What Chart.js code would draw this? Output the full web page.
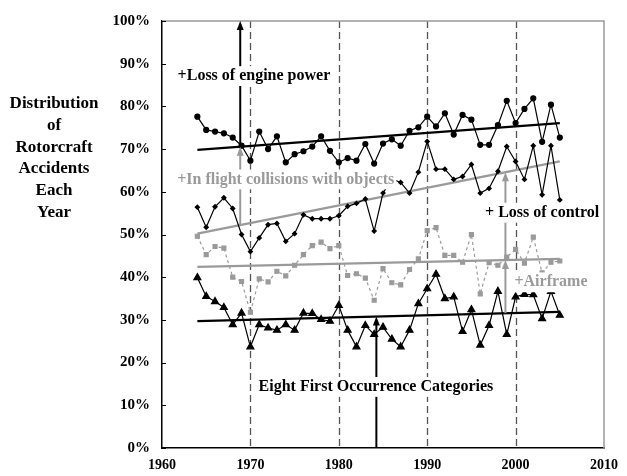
<!DOCTYPE html>
<html>
<head>
<meta charset="utf-8">
<script src="https://cdn.jsdelivr.net/npm/chart.js@4.4.0/dist/chart.umd.min.js"></script>
<style>
    html, body { margin: 0; padding: 0; background: #fff; }
</style>
</head>
<body>
<canvas id="accidentChart" width="627" height="476"></canvas>
<script>
// data (percent of accidents each year)
const years = [1964, 1965, 1966, 1967, 1968, 1969, 1970, 1971, 1972, 1973,
               1974, 1975, 1976, 1977, 1978, 1979, 1980, 1981, 1982, 1983,
               1984, 1985, 1986, 1987, 1988, 1989, 1990, 1991, 1992, 1993,
               1994, 1995, 1996, 1997, 1998, 1999, 2000, 2001, 2002, 2003,
               2004, 2005];
const enginePower = [77.6, 74.5, 74.1, 73.7, 72.7, 70.8, 67.3, 74.1, 70.0, 73.0,
                     66.9, 68.8, 69.5, 70.6, 73.0, 69.6, 66.9, 67.9, 67.3, 71.2,
                     66.6, 71.3, 72.3, 70.8, 74.3, 75.1, 77.6, 75.3, 78.4, 73.4,
                     78.0, 76.9, 71.0, 71.0, 75.6, 81.3, 76.1, 79.4, 81.9, 71.7,
                     80.4, 72.7];
const lossOfControl = [56.4, 51.7, 56.5, 58.6, 56.1, 50.0, 46.0, 49.2, 52.3, 52.6,
                       48.4, 50.2, 54.6, 53.7, 53.7, 53.7, 54.4, 56.6, 57.3, 58.3,
                       50.8, 59.7, 63.0, 62.2, 59.7, 64.6, 71.8, 65.3, 65.3, 62.9,
                       63.6, 66.4, 59.7, 60.8, 64.8, 70.6, 67.1, 62.9, 70.8, 59.3,
                       70.8, 58.1];
const airframe = [49.6, 45.3, 47.2, 46.8, 40.0, 39.0, 31.8, 39.6, 38.9, 41.4,
                  40.3, 42.8, 45.3, 47.4, 48.2, 46.7, 47.4, 40.4, 40.8, 39.8,
                  34.6, 42.0, 38.7, 38.2, 41.8, 44.3, 50.9, 51.6, 45.1, 45.1,
                  43.5, 50.0, 36.1, 43.4, 42.8, 44.7, 46.5, 43.3, 49.4, 41.0,
                  43.5, 43.8];
const eightCategories = [39.9, 35.5, 34.3, 32.9, 28.9, 31.6, 23.7, 28.9, 28.1, 27.6,
                         28.9, 27.6, 31.6, 31.5, 30.1, 29.7, 33.4, 27.6, 23.7, 28.7,
                         26.6, 28.3, 25.5, 23.7, 27.6, 33.8, 37.3, 40.7, 35.0, 35.4,
                         27.3, 32.4, 24.1, 28.7, 36.7, 26.6, 35.4, 36.0, 35.9, 30.3,
                         36.7, 31.1];

// trend lines (start / end values)
const trendYears = [1964, 2005];
const engineTrend = [69.8, 76.1];
const controlTrend = [50.2, 67.1];
const airframeTrend = [42.4, 44.3];
const eightTrend = [29.7, 31.9];

const decadeLines = [1970, 1980, 1990, 2000];
const yTitle = ['Distribution', 'of', 'Rotorcraft', 'Accidents', 'Each', 'Year'];

const BLACK = '#000';
const GRAY = '#9a9a9a';
const SERIF = '"Liberation Serif", "Times New Roman", serif';

Chart.defaults.font.family = SERIF;
Chart.defaults.color = BLACK;

function pts(values) {
    return years.map((yr, i) => ({ x: yr, y: values[i] }));
}
function trendPts(values) {
    return trendYears.map((yr, i) => ({ x: yr, y: values[i] }));
}
function trendAt(values, yr) {
    return values[0] + (values[1] - values[0]) * (yr - trendYears[0]) / (trendYears[1] - trendYears[0]);
}

function arrow(ctx, x, yFrom, yTo, color) {
    ctx.strokeStyle = color;
    ctx.fillStyle = color;
    ctx.lineWidth = 2;
    ctx.beginPath();
    ctx.moveTo(x, yFrom);
    ctx.lineTo(x, yTo + 6);
    ctx.stroke();
    ctx.beginPath();
    ctx.moveTo(x, yTo);
    ctx.lineTo(x - 3.5, yTo + 9);
    ctx.lineTo(x + 3.5, yTo + 9);
    ctx.closePath();
    ctx.fill();
}

function label(ctx, text, cx, cy, color, size) {
    ctx.font = 'bold ' + size + 'px ' + SERIF;
    const w = ctx.measureText(text).width;
    ctx.fillStyle = '#fff';
    ctx.fillRect(cx - w / 2 - 2, cy - size * 0.62, w + 4, size * 1.24);
    ctx.fillStyle = color;
    ctx.textAlign = 'center';
    ctx.textBaseline = 'middle';
    ctx.fillText(text, cx, cy);
}

const decorations = {
    id: 'decorations',
    beforeDatasetsDraw(chart) {
        const { ctx, chartArea: a, scales: { x, y } } = chart;
        ctx.save();
        // dashed decade markers
        ctx.strokeStyle = '#555';
        ctx.lineWidth = 1.3;
        ctx.setLineDash([7, 4]);
        decadeLines.forEach(v => {
            const px = Math.round(x.getPixelForValue(v)) + 0.5;
            ctx.beginPath();
            ctx.moveTo(px, a.top);
            ctx.lineTo(px, a.bottom);
            ctx.stroke();
        });
        ctx.setLineDash([]);
        // light frame on top and right
        ctx.strokeStyle = GRAY;
        ctx.lineWidth = 1.5;
        ctx.beginPath();
        ctx.moveTo(a.left, a.top);
        ctx.lineTo(a.right, a.top);
        ctx.lineTo(a.right, a.bottom);
        ctx.stroke();
        // small inward ticks on the y axis
        ctx.strokeStyle = BLACK;
        ctx.lineWidth = 1;
        y.ticks.forEach(t => {
            const py = Math.round(y.getPixelForValue(t.value)) + 0.5;
            ctx.beginPath();
            ctx.moveTo(a.left, py);
            ctx.lineTo(a.left + 4, py);
            ctx.stroke();
        });
        ctx.restore();
    },
    afterDatasetsDraw(chart) {
        const { ctx, scales: { x, y } } = chart;
        ctx.save();
        const xl = x.getPixelForValue(1968.85);
        const xr = x.getPixelForValue(1998.85);
        const xm = x.getPixelForValue(1984.25);

        arrow(ctx, xl, y.getPixelForValue(trendAt(engineTrend, 1968.85)), y.getPixelForValue(100), BLACK);
        arrow(ctx, xl, y.getPixelForValue(trendAt(controlTrend, 1968.85)), y.getPixelForValue(trendAt(engineTrend, 1968.85)), GRAY);
        arrow(ctx, xr, y.getPixelForValue(trendAt(airframeTrend, 1998.85)), y.getPixelForValue(trendAt(controlTrend, 1998.85)), GRAY);
        arrow(ctx, xr, y.getPixelForValue(trendAt(eightTrend, 1998.85)), y.getPixelForValue(trendAt(airframeTrend, 1998.85)), GRAY);
        arrow(ctx, xm, y.getPixelForValue(0), y.getPixelForValue(trendAt(eightTrend, 1984.25)), BLACK);

        label(ctx, '+Loss of engine power', x.getPixelForValue(1970.4), y.getPixelForValue(87.1), BLACK, 16);
        label(ctx, '+In flight collisions with objects', x.getPixelForValue(1974.0), y.getPixelForValue(62.9), GRAY, 16);
        label(ctx, '+ Loss of control', x.getPixelForValue(2003.0), y.getPixelForValue(55.1), BLACK, 16);
        label(ctx, '+Airframe', x.getPixelForValue(2004.0), y.getPixelForValue(38.8), GRAY, 16);
        label(ctx, 'Eight First Occurrence Categories', x.getPixelForValue(1984.2), y.getPixelForValue(14.3), BLACK, 16);
        ctx.restore();
    },
    afterDraw(chart) {
        const ctx = chart.ctx;
        ctx.save();
        ctx.font = 'bold 17px ' + SERIF;
        ctx.fillStyle = BLACK;
        ctx.textAlign = 'center';
        ctx.textBaseline = 'middle';
        yTitle.forEach((line, i) => ctx.fillText(line, 54, 104 + i * 21.7));
        ctx.restore();
    }
};

const ctx = document.getElementById('accidentChart').getContext('2d');
const accidentChart = new Chart(ctx, {
    type: 'line',
    data: {
        datasets: [
            {
                label: 'Loss of engine power',
                data: pts(enginePower),
                borderColor: BLACK, backgroundColor: BLACK,
                borderWidth: 1.2, pointStyle: 'circle', pointRadius: 2.5
            },
            {
                label: 'Loss of control',
                data: pts(lossOfControl),
                borderColor: BLACK, backgroundColor: BLACK,
                borderWidth: 1.2, pointStyle: 'rectRot', pointRadius: 2.1
            },
            {
                label: 'Airframe',
                data: pts(airframe),
                borderColor: GRAY, backgroundColor: GRAY,
                borderWidth: 1.2, borderDash: [3, 3],
                pointStyle: 'rect', pointRadius: 2.8
            },
            {
                label: 'Eight first occurrence categories',
                data: pts(eightCategories),
                borderColor: BLACK, backgroundColor: BLACK,
                borderWidth: 1.2, pointStyle: 'triangle', pointRadius: 4
            },
            { data: trendPts(engineTrend), borderColor: BLACK, borderWidth: 2.3, pointRadius: 0 },
            { data: trendPts(controlTrend), borderColor: GRAY, borderWidth: 2.3, pointRadius: 0 },
            { data: trendPts(airframeTrend), borderColor: GRAY, borderWidth: 2.3, pointRadius: 0 },
            { data: trendPts(eightTrend), borderColor: BLACK, borderWidth: 2.3, pointRadius: 0 }
        ]
    },
    options: {
        responsive: false,
        animation: false,
        layout: { padding: { top: 20, right: 15, left: 0, bottom: 0 } },
        plugins: {
            legend: { display: false },
            tooltip: { enabled: false }
        },
        scales: {
            x: {
                type: 'linear',
                min: 1960, max: 2010,
                ticks: {
                    stepSize: 10, padding: 9, color: BLACK,
                    font: { size: 14, weight: 'bold' },
                    callback: v => String(v)
                },
                grid: { display: false, drawTicks: false },
                border: { display: true, color: BLACK, width: 1.5 },
                afterFit(scale) { scale.height = 28; }
            },
            y: {
                min: 0, max: 100,
                ticks: {
                    stepSize: 10, padding: 12, color: BLACK,
                    font: { size: 15, weight: 'bold' },
                    callback: v => v + '%'
                },
                grid: { display: false, drawTicks: false },
                border: { display: true, color: BLACK, width: 1.5 },
                afterFit(scale) { scale.width = 162; }
            }
        }
    },
    plugins: [decorations]
});
</script>
</body>
</html>
